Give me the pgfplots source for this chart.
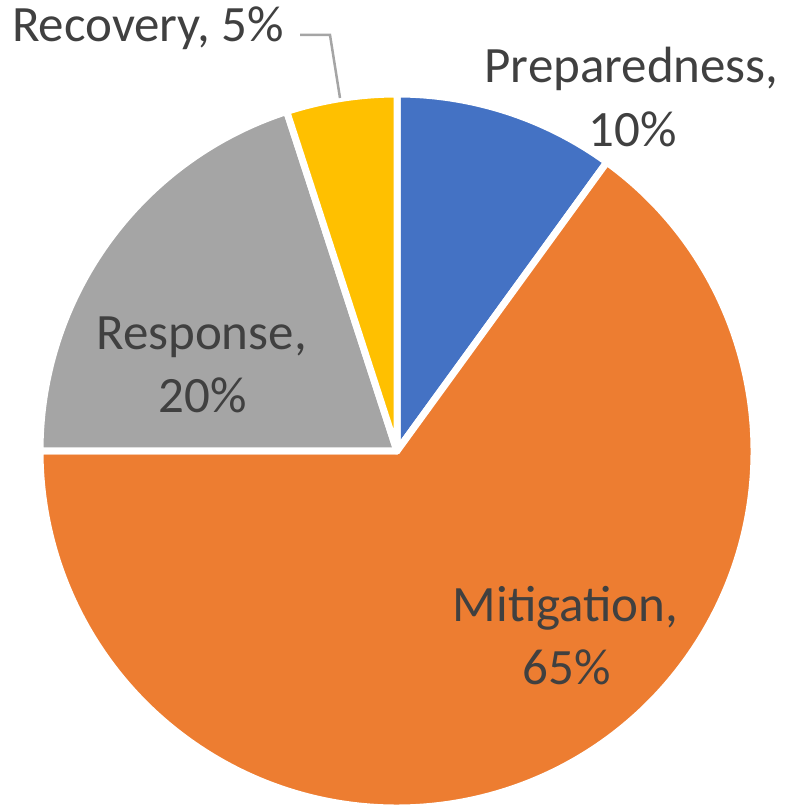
\documentclass[border=0pt]{standalone}
\usepackage{fontspec}
\setmainfont{Carlito}
\usepackage{pgfplots}
\usepackage{pgfplotstable}
\pgfplotsset{compat=1.18}

\definecolor{piecolor0}{HTML}{4472C4}
\definecolor{piecolor1}{HTML}{ED7D31}
\definecolor{piecolor2}{HTML}{A5A5A5}
\definecolor{piecolor3}{HTML}{FFC000}
\definecolor{lbl}{HTML}{404040}

% share of each phase, in per cent
\pgfplotstableread{
label        value
Preparedness 10
Mitigation   65
Response     20
Recovery     5
}\piedata

\newcommand\lblfont{\fontsize{14.5pt}{17.9pt}\selectfont}

\begin{document}
\begin{tikzpicture}
% start and end angle of each slice, clockwise from 12 o'clock
\pgfplotstablegetrowsof{\piedata}
\pgfmathtruncatemacro\nrows{\pgfplotsretval-1}
\xdef\cum{90}
\foreach \i in {0,...,\nrows}{
  \pgfplotstablegetelem{\i}{value}\of\piedata
  \pgfmathsetmacro\endang{\cum-3.6*\pgfplotsretval}
  \expandafter\xdef\csname sa\i\endcsname{\cum}
  \expandafter\xdef\csname ea\i\endcsname{\endang}
  \xdef\cum{\endang}
}
\begin{axis}[
    x=0.1mm, y=0.1mm,
    xmin=0, xmax=786, ymin=0, ymax=810,
    hide axis, clip=false,
  ]
  \addplot[draw=none, forget plot] coordinates {(0,0) (786,810)};

  % arcs are kept out of the bounding box (their control points overshoot)
  \pgfplotsinvokeforeach{0,...,3}{
    \path[overlay, fill=piecolor#1, draw=white, line width=0.7mm, line join=round]
      (axis cs:397,359) -- ++(\csname sa#1\endcsname:35.7mm)
      arc[start angle=\csname sa#1\endcsname, end angle=\csname ea#1\endcsname, radius=35.7mm]
      -- cycle;
  }

  % leader line of the small slice
  \addplot[draw=piecolor2, line width=0.25mm, forget plot]
    coordinates {(300,775) (330,775) (340,712)};

  \begin{scope}[every node/.style={font=\lblfont, text=lbl, anchor=base, inner sep=0pt}]
    \node at (axis cs:148,768) {Recovery, 5\%};
    \node at (axis cs:631.5,727) {Preparedness,};
    \node at (axis cs:632.5,663) {10\%};
    \node at (axis cs:201.5,460) {Response,};
    \node at (axis cs:202.5,397) {20\%};
    \node at (axis cs:565.5,188) {Mitigation,};
    \node at (axis cs:567,125) {65\%};
  \end{scope}
\end{axis}
\end{tikzpicture}
\end{document}
